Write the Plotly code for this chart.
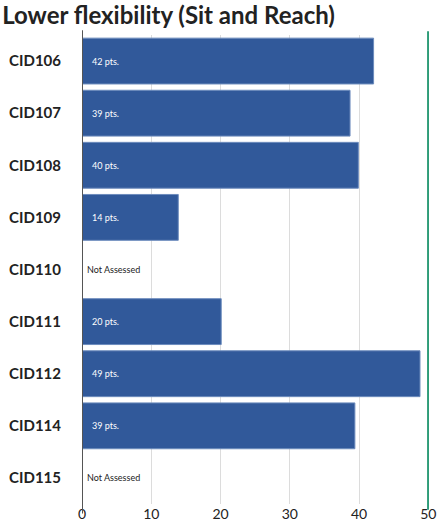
import plotly.graph_objects as go

# Participants and their sit-and-reach scores (None = not assessed)
participants = ["CID106", "CID107", "CID108", "CID109", "CID110",
                "CID111", "CID112", "CID114", "CID115"]
scores = [42.1, 38.7, 39.9, 13.9, None, 20.1, 48.8, 39.4, None]
target = 50
x_ticks = [0, 10, 20, 30, 40, 50]

bar_color = "#31599a"
target_color = "#2e9c78"
font_family = "Lato, 'Open Sans', sans-serif"

fig = go.Figure()
fig.add_trace(go.Bar(
    x=scores,
    y=participants,
    orientation="h",
    marker=dict(color=bar_color, line=dict(color="#6d8cbd", width=1)),
    hoverinfo="skip",
))

# Score labels inside the bars, or "Not Assessed" for missing scores
for p, s in zip(participants, scores):
    if s is None:
        fig.add_annotation(x=0, y=p, xref="x", yref="y", text="Not Assessed",
                           showarrow=False, xanchor="left", xshift=3,
                           font=dict(size=9, color="#222", family=font_family))
    else:
        fig.add_annotation(x=0, y=p, xref="x", yref="y", text=f"{round(s)} pts.",
                           showarrow=False, xanchor="left", xshift=8,
                           font=dict(size=9, color="white", family=font_family))

# Target line
fig.add_shape(type="line", xref="x", yref="paper", x0=target, x1=target,
              y0=-0.012, y1=1.008, line=dict(color=target_color, width=2.5))
# Baseline at zero
fig.add_shape(type="line", xref="x", yref="paper", x0=0, x1=0,
              y0=-0.02, y1=1.01, line=dict(color="#555", width=2))

fig.update_layout(
    width=437, height=531,
    margin=dict(l=82, r=8, t=35, b=27),
    paper_bgcolor="white", plot_bgcolor="white",
    bargap=0.12,
    showlegend=False,
    font=dict(family=font_family, color="#222"),
    title=dict(text="<b>Lower flexibility (Sit and Reach)</b>",
               x=0.005, xanchor="left", y=0.97, yanchor="middle",
               font=dict(size=24, color="#222", family=font_family)),
    xaxis=dict(range=[0, 50.1], tickvals=x_ticks, showgrid=True,
               gridcolor="#dcdcdc", gridwidth=1, zeroline=False,
               tickfont=dict(size=14, color="#222"), ticks="", ticklen=0,
               automargin=False, fixedrange=True),
    yaxis=dict(autorange="reversed", showgrid=False, zeroline=False,
               tickfont=dict(size=15, color="#222", family=font_family),
               ticklabelstandoff=20, ticks="", fixedrange=True,
               automargin=False,
               tickvals=participants,
               ticktext=[f"<b>{p}</b>" for p in participants]),
)

fig.write_html("out.html")
